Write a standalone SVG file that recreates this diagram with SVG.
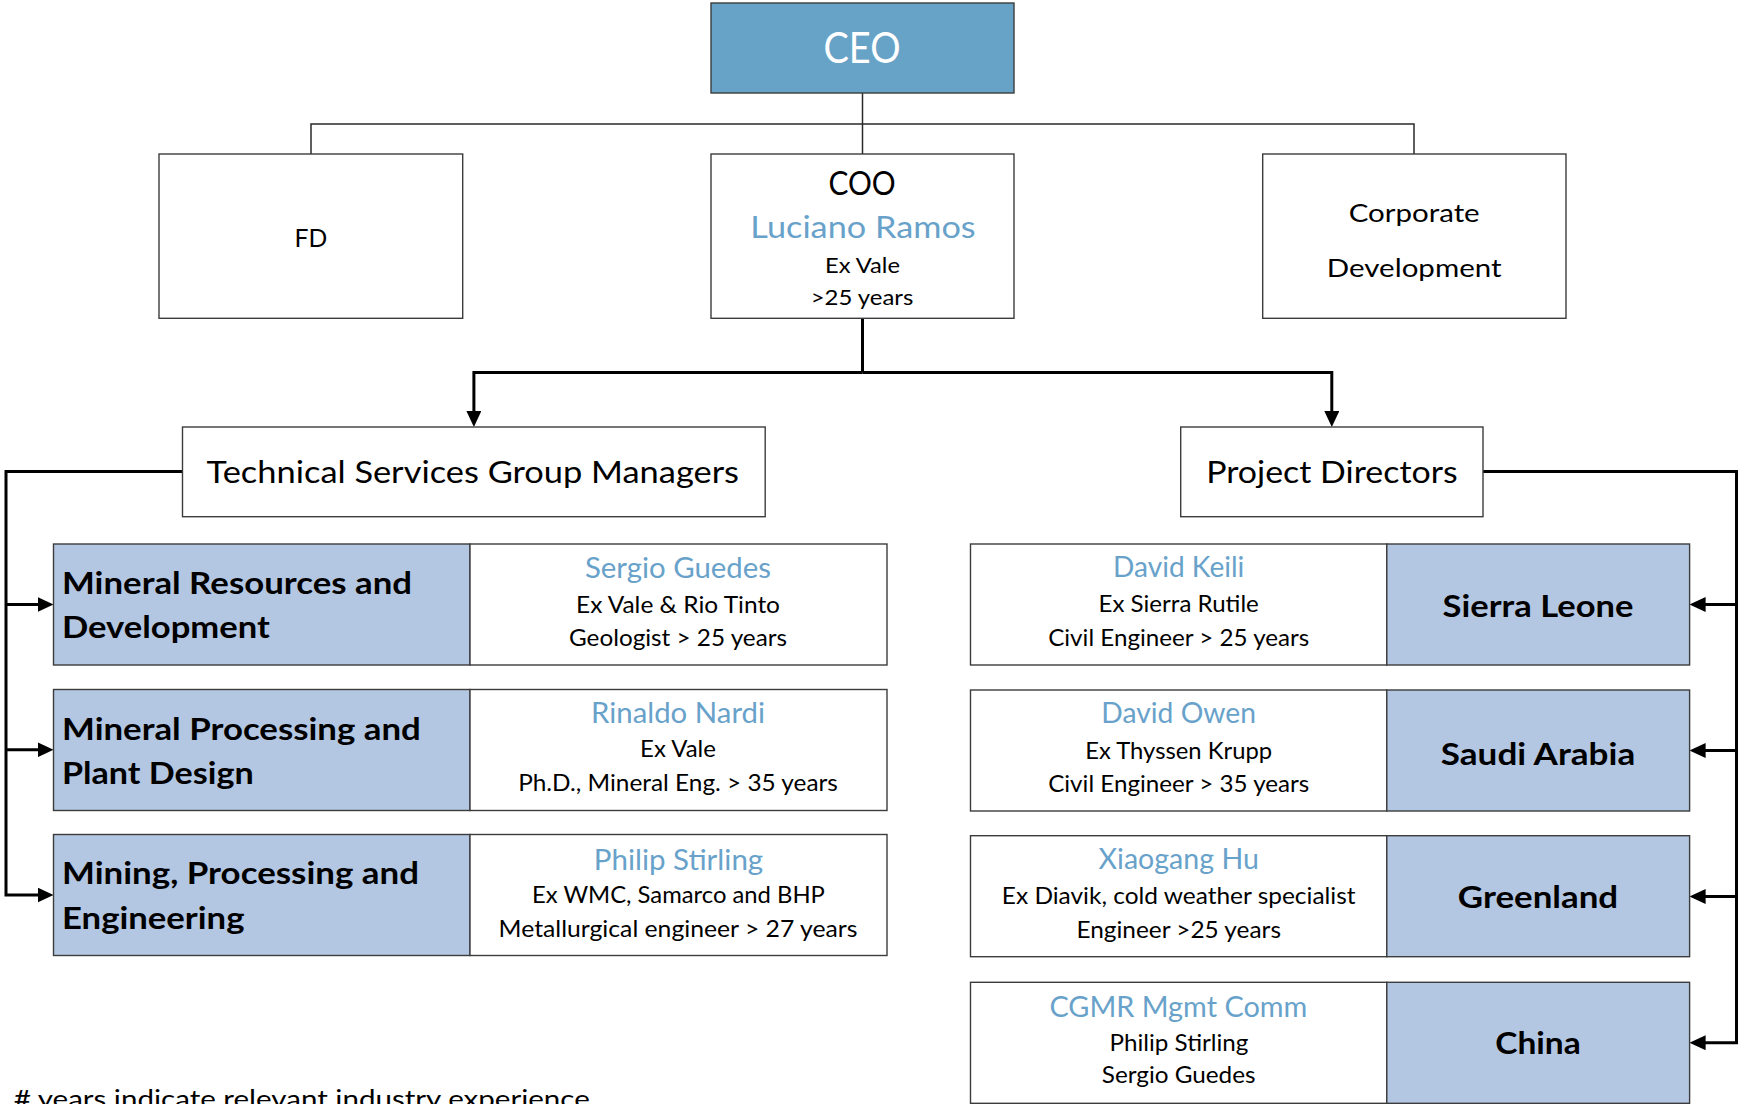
<svg xmlns="http://www.w3.org/2000/svg" width="1738" height="1104" viewBox="0 0 1738 1104">
<style>
text{font-family:Lato,"Liberation Sans",sans-serif;fill:#000}
.box{fill:#fff;stroke:#3c3c3c;stroke-width:1.4}
.blue{fill:#B4C7E2;stroke:#3c3c3c;stroke-width:1.4}
.ceo{fill:#67A2C7;stroke:#3c3c3c;stroke-width:1.4}
.thin{fill:none;stroke:#2a2a2a;stroke-width:1.5}
.thick{fill:none;stroke:#000;stroke-width:3}
.c{text-anchor:middle}
.name{fill:#68A2CA;font-size:28.4px}
.det{font-size:22.3px}
.lbl{font-weight:700;font-size:30.8px}
</style>
<defs>
<marker id="arr" viewBox="0 0 16 15" refX="4" refY="7.5" markerWidth="16" markerHeight="15" markerUnits="userSpaceOnUse" orient="auto">
<path d="M0,0 L16,7.5 L0,15 z" fill="#000"/>
</marker>
</defs>

<g id="connectors">
<path class="thin" d="M862.5,93 V154"/>
<path class="thin" d="M311,154 V124 H1414 V154"/>
<path class="thick" d="M862.5,318 V372.5"/>
<path class="thick" d="M862.5,372.5 H473.9 V415" marker-end="url(#arr)"/>
<path class="thick" d="M862.5,372.5 H1331.8 V415" marker-end="url(#arr)"/>
<path class="thick" d="M182.5,471.5 H6 V895 H41.5" marker-end="url(#arr)"/>
<path class="thick" d="M6,604.5 H41.5" marker-end="url(#arr)"/>
<path class="thick" d="M6,749.8 H41.5" marker-end="url(#arr)"/>
<path class="thick" d="M1483,471.5 H1736.5 V1042.7 H1701.6" marker-end="url(#arr)"/>
<path class="thick" d="M1736.5,604.5 H1701.6" marker-end="url(#arr)"/>
<path class="thick" d="M1736.5,750.5 H1701.6" marker-end="url(#arr)"/>
<path class="thick" d="M1736.5,896.5 H1701.6" marker-end="url(#arr)"/>
</g>

<g id="ceo">
<rect class="ceo" x="711" y="3" width="303" height="90"/>
<text class="c" x="862" y="63" font-size="43" style="fill:#fff" textLength="77" lengthAdjust="spacingAndGlyphs">CEO</text>
</g>

<g id="fd">
<rect class="box" x="159" y="154" width="303.7" height="164.3"/>
<text class="c" x="310.9" y="246.5" font-size="24.5" textLength="32.7" lengthAdjust="spacingAndGlyphs">FD</text>
</g>

<g id="coo">
<rect class="box" x="711" y="154" width="303" height="164.3"/>
<text class="c" x="862" y="195" font-size="32.5" textLength="67.2" lengthAdjust="spacingAndGlyphs">COO</text>
<text class="c" x="863" y="238.3" font-size="30.3" style="fill:#68A2CA" textLength="225.4" lengthAdjust="spacingAndGlyphs">Luciano Ramos</text>
<text class="c" x="862.5" y="273.3" font-size="21.5" textLength="75" lengthAdjust="spacingAndGlyphs">Ex Vale</text>
<text class="c" x="862" y="305" font-size="21.5" textLength="102.7" lengthAdjust="spacingAndGlyphs">&gt;25 years</text>
</g>

<g id="corporate-development">
<rect class="box" x="1262.7" y="154" width="303.3" height="164.3"/>
<text class="c" x="1414.2" y="221.7" font-size="25.5" textLength="131" lengthAdjust="spacingAndGlyphs">Corporate</text>
<text class="c" x="1414.2" y="276.7" font-size="25.5" textLength="174.7" lengthAdjust="spacingAndGlyphs">Development</text>
</g>

<g id="technical-services">
<rect class="box" x="182.5" y="427" width="582.7" height="89.7"/>
<text class="c" x="472.8" y="483.3" font-size="30.3" textLength="532.4" lengthAdjust="spacingAndGlyphs">Technical Services Group Managers</text>
</g>

<g id="project-directors">
<rect class="box" x="1180.7" y="427" width="302.3" height="89.7"/>
<text class="c" x="1331.9" y="483.3" font-size="30.3" textLength="251.4" lengthAdjust="spacingAndGlyphs">Project Directors</text>
</g>

<g id="mineral-resources">
<rect class="blue" x="53.5" y="544" width="416.5" height="121"/>
<text class="lbl" x="62" y="594" textLength="350" lengthAdjust="spacingAndGlyphs">Mineral Resources and</text>
<text class="lbl" x="62" y="638.3" textLength="207.8" lengthAdjust="spacingAndGlyphs">Development</text>
</g>
<g id="sergio-guedes">
<rect class="box" x="470" y="544" width="417" height="121"/>
<text class="c name" x="678" y="578.3" textLength="186" lengthAdjust="spacingAndGlyphs">Sergio Guedes</text>
<text class="c det" x="678" y="613.3" textLength="204" lengthAdjust="spacingAndGlyphs">Ex Vale &amp; Rio Tinto</text>
<text class="c det" x="678" y="645.7" textLength="218" lengthAdjust="spacingAndGlyphs">Geologist &gt; 25 years</text>
</g>

<g id="mineral-processing">
<rect class="blue" x="53.5" y="689.5" width="416.5" height="121"/>
<text class="lbl" x="62" y="740" textLength="358.8" lengthAdjust="spacingAndGlyphs">Mineral Processing and</text>
<text class="lbl" x="62" y="784.3" textLength="191.7" lengthAdjust="spacingAndGlyphs">Plant Design</text>
</g>
<g id="rinaldo-nardi">
<rect class="box" x="470" y="689.5" width="417" height="121"/>
<text class="c name" x="678" y="723.3" textLength="174" lengthAdjust="spacingAndGlyphs">Rinaldo Nardi</text>
<text class="c det" x="678" y="757.3" textLength="75.8" lengthAdjust="spacingAndGlyphs">Ex Vale</text>
<text class="c det" x="678" y="791" textLength="319.7" lengthAdjust="spacingAndGlyphs">Ph.D., Mineral Eng. &gt; 35 years</text>
</g>

<g id="mining-processing">
<rect class="blue" x="53.5" y="834.5" width="416.5" height="121"/>
<text class="lbl" x="62" y="884" textLength="357" lengthAdjust="spacingAndGlyphs">Mining, Processing and</text>
<text class="lbl" x="62" y="929" textLength="182.5" lengthAdjust="spacingAndGlyphs">Engineering</text>
</g>
<g id="philip-stirling">
<rect class="box" x="470" y="834.5" width="417" height="121"/>
<text class="c name" x="678.5" y="870" textLength="169.4" lengthAdjust="spacingAndGlyphs">Philip Stirling</text>
<text class="c det" x="678.5" y="902.7" textLength="292.8" lengthAdjust="spacingAndGlyphs">Ex WMC, Samarco and BHP</text>
<text class="c det" x="678" y="936.7" textLength="358.8" lengthAdjust="spacingAndGlyphs">Metallurgical engineer &gt; 27 years</text>
</g>

<g id="david-keili">
<rect class="box" x="970.5" y="544" width="416.3" height="121"/>
<text class="c name" x="1178.7" y="576.7" textLength="131.3" lengthAdjust="spacingAndGlyphs">David Keili</text>
<text class="c det" x="1178.7" y="612.3" textLength="160.3" lengthAdjust="spacingAndGlyphs">Ex Sierra Rutile</text>
<text class="c det" x="1178.7" y="645.7" textLength="261.1" lengthAdjust="spacingAndGlyphs">Civil Engineer &gt; 25 years</text>
</g>
<g id="sierra-leone">
<rect class="blue" x="1386.8" y="544" width="302.8" height="121"/>
<text class="c lbl" x="1538" y="617" textLength="190.8" lengthAdjust="spacingAndGlyphs">Sierra Leone</text>
</g>

<g id="david-owen">
<rect class="box" x="970.5" y="690" width="416.3" height="121"/>
<text class="c name" x="1178.7" y="723.3" textLength="154.7" lengthAdjust="spacingAndGlyphs">David Owen</text>
<text class="c det" x="1178.7" y="759" textLength="186.8" lengthAdjust="spacingAndGlyphs">Ex Thyssen Krupp</text>
<text class="c det" x="1178.7" y="791.7" textLength="261.1" lengthAdjust="spacingAndGlyphs">Civil Engineer &gt; 35 years</text>
</g>
<g id="saudi-arabia">
<rect class="blue" x="1386.8" y="690" width="302.8" height="121"/>
<text class="c lbl" x="1538" y="764.5" textLength="194.4" lengthAdjust="spacingAndGlyphs">Saudi Arabia</text>
</g>

<g id="xiaogang-hu">
<rect class="box" x="970.5" y="835.7" width="416.3" height="121"/>
<text class="c name" x="1178.7" y="869.3" textLength="160.3" lengthAdjust="spacingAndGlyphs">Xiaogang Hu</text>
<text class="c det" x="1178.7" y="904.3" textLength="353.7" lengthAdjust="spacingAndGlyphs">Ex Diavik, cold weather specialist</text>
<text class="c det" x="1178.7" y="937.7" textLength="204.6" lengthAdjust="spacingAndGlyphs">Engineer &gt;25 years</text>
</g>
<g id="greenland">
<rect class="blue" x="1386.8" y="835.7" width="302.8" height="121"/>
<text class="c lbl" x="1538" y="908.3" textLength="160.3" lengthAdjust="spacingAndGlyphs">Greenland</text>
</g>

<g id="cgmr-mgmt-comm">
<rect class="box" x="970.5" y="982.3" width="416.3" height="121"/>
<text class="c name" x="1178.4" y="1016.7" textLength="258" lengthAdjust="spacingAndGlyphs">CGMR Mgmt Comm</text>
<text class="c det" x="1179" y="1050.7" textLength="138.9" lengthAdjust="spacingAndGlyphs">Philip Stirling</text>
<text class="c det" x="1178.7" y="1083.3" textLength="153.7" lengthAdjust="spacingAndGlyphs">Sergio Guedes</text>
</g>
<g id="china">
<rect class="blue" x="1386.8" y="982.3" width="302.8" height="121"/>
<text class="c lbl" x="1538" y="1054.3" textLength="85.5" lengthAdjust="spacingAndGlyphs">China</text>
</g>

<g id="footnote">
<text x="13.8" y="1107.5" font-size="25.5" textLength="576" lengthAdjust="spacingAndGlyphs"># years indicate relevant industry experience</text>
</g>
</svg>
